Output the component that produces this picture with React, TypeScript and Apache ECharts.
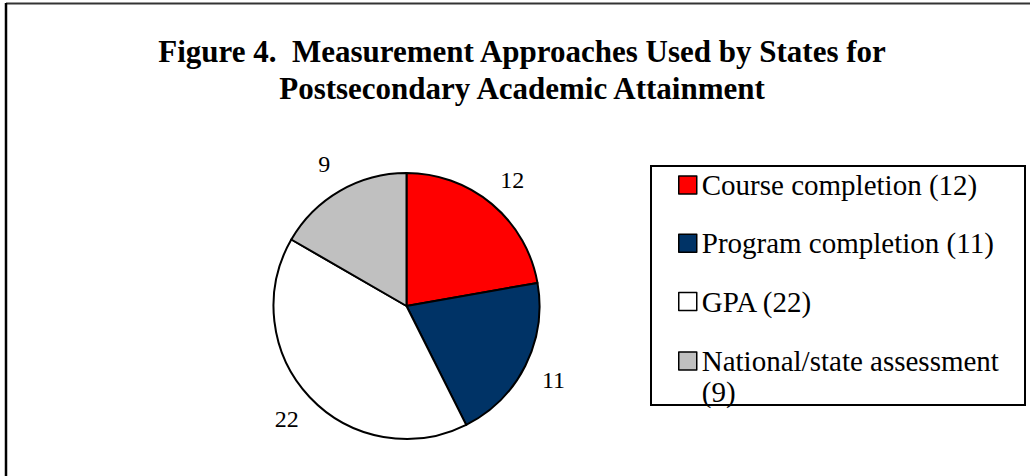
import React, { useEffect, useRef } from "react";
import * as echarts from "echarts";

const categories = [
  "Course completion",
  "Program completion",
  "GPA",
  "National/state assessment",
];
const values = [12, 11, 22, 9];
const colors = ["#FF0000", "#003366", "#FFFFFF", "#C0C0C0"];
const titleText = "Figure 4.  Measurement Approaches Used by States for\nPostsecondary Academic Attainment";

const FONT = "'Liberation Serif', 'Times New Roman', serif";

export default function App() {
  const ref = useRef<HTMLDivElement>(null);
  useEffect(() => {
    if (!ref.current) return;
    const chart = echarts.init(ref.current, undefined, { renderer: "svg" });
    const pieData = categories.map((name, i) => ({
      name,
      value: values[i],
      itemStyle: { color: colors[i] },
    }));
    const labelData = categories.map((name, i) => ({ name, value: values[i] }));
    const valueByName: Record<string, number> = {};
    categories.forEach((c, i) => (valueByName[c] = values[i]));

    const legendText = {
      fontFamily: FONT,
      fontSize: 29,
      lineHeight: 31,
      color: "#000",
      width: 315,
      overflow: "break",
    };
    const legendCommon = {
      orient: "vertical",
      left: 678,
      padding: 0,
      itemGap: 27.3,
      itemWidth: 18,
      itemHeight: 18,
      icon: "rect",
      selectedMode: false,
      itemStyle: { borderColor: "#000", borderWidth: 1.5 },
      textStyle: legendText,
    };

    chart.setOption({
      animation: false,
      backgroundColor: "#FFFFFF",
      title: {
        text: titleText,
        left: 522,
        top: 33,
        textAlign: "center",
        padding: 0,
        textStyle: {
          fontFamily: FONT,
          fontWeight: "bold",
          fontSize: 31,
          lineHeight: 37,
          color: "#000",
        },
      },
      graphic: [
        {
          type: "line",
          shape: { x1: 6, y1: 3.5, x2: 1030, y2: 3.5 },
          style: { stroke: "#333", lineWidth: 2 },
          z: 0,
        },
        {
          type: "line",
          shape: { x1: 6, y1: 3, x2: 6, y2: 476 },
          style: { stroke: "#000", lineWidth: 2.5 },
          z: 0,
        },
        {
          type: "rect",
          shape: { x: 651, y: 166, width: 374, height: 239 },
          style: { fill: "#FFFFFF", stroke: "#000", lineWidth: 2 },
          z: 0,
        },
      ],
      legend: [
        {
          ...legendCommon,
          top: 169.5,
          formatter: (name: string) => `${name} (${valueByName[name]})`,
          data: categories.slice(0, 3),
        },
        {
          ...legendCommon,
          top: 314.5,
          // leading blank line keeps the first text line level with the icon
          formatter: (name: string) => ` \n${name} (${valueByName[name]})`,
          data: categories.slice(3),
        },
      ],
      series: [
        {
          type: "pie",
          center: [406.5, 306],
          radius: 133,
          startAngle: 90,
          clockwise: true,
          silent: true,
          label: { show: false },
          labelLine: { show: false },
          itemStyle: { borderColor: "#000", borderWidth: 2 },
          emphasis: { disabled: true },
          data: pieData,
        },
        {
          type: "pie",
          center: [406.5, 306],
          radius: [133, 190],
          startAngle: 90,
          clockwise: true,
          silent: true,
          itemStyle: { color: "rgba(0,0,0,0)", borderWidth: 0 },
          emphasis: { disabled: true },
          labelLine: { show: false },
          label: {
            show: true,
            position: "inside",
            formatter: "{c}",
            fontFamily: FONT,
            fontSize: 24,
            color: "#000",
          },
          data: labelData,
        },
      ],
    });
    return () => chart.dispose();
  }, []);

  return (
    <div
      ref={ref}
      style={{ position: "fixed", left: 0, top: 0, width: 1030, height: 476 }}
    />
  );
}
